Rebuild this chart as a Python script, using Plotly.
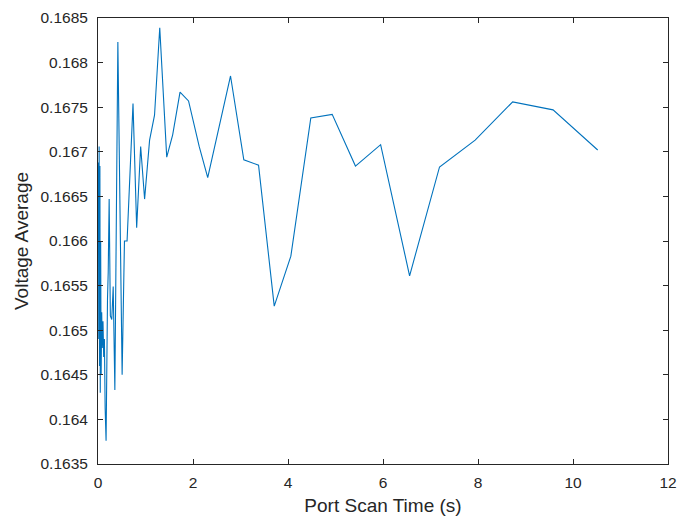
import plotly.graph_objects as go

# Port scan duration (s) and averaged voltage readings
scan_time = [0.000, 0.008, 0.016, 0.024, 0.032, 0.040, 0.048, 0.056, 0.066, 0.078,
             0.090, 0.105, 0.120, 0.135, 0.150, 0.170, 0.200, 0.215, 0.235, 0.260,
             0.290, 0.320, 0.355, 0.418, 0.508, 0.557, 0.612, 0.737, 0.814, 0.898,
             0.981, 1.086, 1.190, 1.300, 1.447, 1.572, 1.727, 1.906, 2.130, 2.310,
             2.790, 3.070, 3.380, 3.710, 4.060, 4.480, 4.930, 5.420, 5.950, 6.560,
             7.190, 7.940, 8.730, 9.580, 10.520]
voltage_avg = [0.16640, 0.16688, 0.16490, 0.16706, 0.16460, 0.16684, 0.16430, 0.16600, 0.16450, 0.16520,
               0.16480, 0.16510, 0.16470, 0.16490, 0.16413, 0.16376, 0.16535, 0.16565, 0.16647, 0.16516,
               0.16512, 0.16549, 0.16433, 0.16823, 0.16450, 0.16600, 0.16600, 0.16754, 0.16615, 0.16706,
               0.16647, 0.16713, 0.16741, 0.16839, 0.16694, 0.16719, 0.16767, 0.16757, 0.16706, 0.16671,
               0.16785, 0.16691, 0.16685, 0.16527, 0.16583, 0.16738, 0.16742, 0.16684, 0.16708, 0.16561,
               0.16683, 0.16713, 0.16756, 0.16747, 0.16702]

x_ticks = [0, 2, 4, 6, 8, 10, 12]
y_ticks = [0.1635, 0.164, 0.1645, 0.165, 0.1655, 0.166, 0.1665, 0.167, 0.1675, 0.168, 0.1685]
y_tick_labels = ["0.1635", "0.164", "0.1645", "0.165", "0.1655", "0.166", "0.1665",
                 "0.167", "0.1675", "0.168", "0.1685"]

axis_color = "#262626"
font_family = "Liberation Sans, Arial, sans-serif"

fig = go.Figure(
    go.Scatter(
        x=scan_time,
        y=voltage_avg,
        mode="lines",
        line=dict(color="#0072BD", width=1.1),
        showlegend=False,
    )
)

common_axis = dict(
    showline=True,
    linecolor=axis_color,
    linewidth=1,
    mirror="ticks",
    ticks="inside",
    ticklen=5,
    tickwidth=1,
    tickcolor=axis_color,
    showgrid=False,
    zeroline=False,
    tickfont=dict(family=font_family, size=15.5, color=axis_color),
)

fig.update_xaxes(
    range=[0, 12],
    tickvals=x_ticks,
    ticktext=[str(v) for v in x_ticks],
    title=dict(text="Port Scan Time (s)", font=dict(family=font_family, size=19, color=axis_color), standoff=9),
    ticklabelstandoff=4,
    **common_axis,
)
fig.update_yaxes(
    range=[0.1635, 0.1685],
    tickvals=y_ticks,
    ticktext=y_tick_labels,
    title=dict(text="Voltage Average", font=dict(family=font_family, size=19, color=axis_color), standoff=6),
    ticklabelstandoff=6,
    **common_axis,
)

fig.update_layout(
    width=686,
    height=522,
    margin=dict(l=98, r=13, t=9, b=58),
    paper_bgcolor="white",
    plot_bgcolor="white",
)

fig.write_html("out.html")
